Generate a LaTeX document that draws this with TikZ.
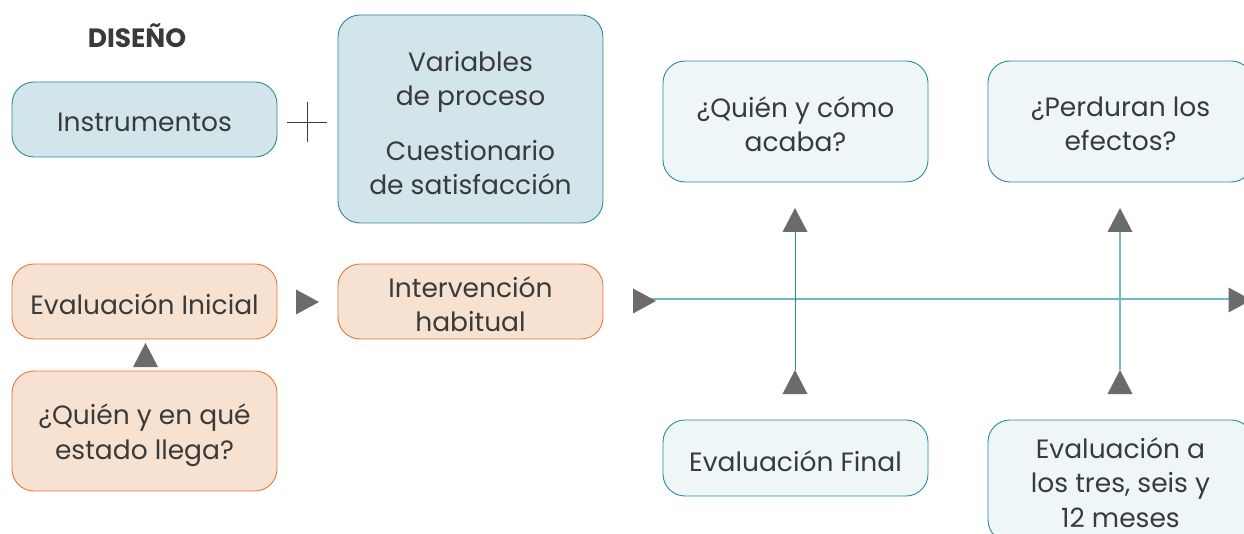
\documentclass[tikz,border=0pt]{standalone}
\usetikzlibrary{calc}
\usepackage{fontspec}
\setmainfont{Poppins}
\definecolor{tealc}{HTML}{2B8A9A}
\definecolor{linec}{HTML}{6FB9C3}
\definecolor{bluefill}{HTML}{D1E5EB}
\definecolor{lightfill}{HTML}{EEF6F8}
\definecolor{orfill}{HTML}{F7E1D0}
\definecolor{orline}{HTML}{E07A3A}
\definecolor{txt}{HTML}{3A3A3A}
\definecolor{tri}{HTML}{6B6B6B}
\tikzset{
  box/.style={rounded corners=22pt, line width=0.9pt, minimum width=265pt, inner sep=0pt},
  bluebox/.style={box, draw=tealc, fill=bluefill},
  lightbox/.style={box, draw=tealc, fill=lightfill},
  orbox/.style={box, draw=orline, fill=orfill},
  boxtext/.style={align=center, text=txt, inner sep=0pt, font=\fontsize{26.5}{34.5}\selectfont},
  conn/.style={draw=linec, line width=1.1pt},
  vconn/.style={draw=tealc, line width=1pt},
  triup/.style={fill=tri},
}
\newcommand\TriUp[1]{\fill[triup, shift={(#1)}] (-12.5,12) -- (0,-12) -- (12.5,12) -- cycle;}
\newcommand\TriRight[1]{\fill[triup, shift={(#1)}] (-11.5,-12.5) -- (11.5,0) -- (-11.5,12.5) -- cycle;}
\begin{document}
\begin{tikzpicture}[x=1pt,y=-1pt]
\clip (0,0) rectangle (1244,534);
\useasboundingbox (0,0) rectangle (1244,534);
% title
\node[text=txt, font=\fontsize{26.5}{30}\bfseries\selectfont] (title) at (137,36) {DISEÑO};
% design boxes
\node[bluebox, minimum height=75pt] (instr) at (144.5,119.5) {};
\node[boxtext] (instrT) at ($(instr)+(0,3)$) {Instrumentos};
\node[bluebox, minimum height=208pt] (vars) at (470.5,119) {};
\node[boxtext] (varsT) at ($(vars)+(0,4)$) {Variables\\de proceso\\[20pt]Cuestionario\\de satisfacción};
% plus sign
\coordinate (plusc) at (307,122);
\draw[txt, line width=0.9pt] ($(plusc)+(-20,0)$) -- ($(plusc)+(20,0)$);
\draw[txt, line width=0.9pt] ($(plusc)+(0,-20)$) -- ($(plusc)+(0,20)$);
% orange boxes
\node[orbox, minimum height=75pt] (evini) at (144.5,301.5) {};
\node[boxtext] (eviniT) at ($(evini)+(0,3)$) {Evaluación Inicial};
\node[orbox, minimum height=75pt] (interv) at (470.5,301.5) {};
\node[boxtext] (intervT) at ($(interv)+(0,2.5)$) {Intervención\\habitual};
\node[orbox, minimum height=120pt] (quien) at (144.5,431) {};
\node[boxtext] (quienT) at ($(quien)+(0,4)$) {¿Quién y en qué\\estado llega?};
% right boxes
\node[lightbox, minimum height=121pt] (acaba) at (795.5,121.5) {};
\node[boxtext] (acabaT) at ($(acaba)+(0,2.5)$) {¿Quién y cómo\\acaba?};
\node[lightbox, minimum height=121pt] (perd) at (1120.5,121.5) {};
\node[boxtext] (perdT) at ($(perd)+(0,2.5)$) {¿Perduran los\\efectos?};
\node[lightbox, minimum height=76pt] (final) at (795.5,458) {};
\node[boxtext] (finalT) at ($(final)+(0,3)$) {Evaluación Final};
\node[lightbox, minimum height=122pt] (tres) at (1120.5,481) {};
\node[boxtext] (tresT) at ($(tres)+(0,1.5)$) {Evaluación a\\los tres, seis y\\12 meses};
% arrow heads (triangles)
\coordinate (t1) at (307.5,302);
\coordinate (t2) at (145.5,355);
\coordinate (t3) at (644.5,301);
\coordinate (t4) at (1240,300);
\coordinate (ua1) at (795,220);
\coordinate (ua2) at (795,382);
\coordinate (ub1) at (1120,220);
\coordinate (ub2) at (1120,382);
% connectors
\coordinate (hs) at (640,299);
\coordinate (he) at (1236,299);
\draw[conn] (hs) -- (he);
\draw[vconn] ($(ua2)+(0,-12)$) -- ($(ua1)+(0,12)$);
\draw[conn] ($(ub2)+(0,-12)$) -- ($(ub1)+(0,12)$);
\TriRight{t1}
\TriUp{t2}
\TriRight{t3}
\TriRight{t4}
\TriUp{ua1}
\TriUp{ua2}
\TriUp{ub1}
\TriUp{ub2}
\end{tikzpicture}
\end{document}
